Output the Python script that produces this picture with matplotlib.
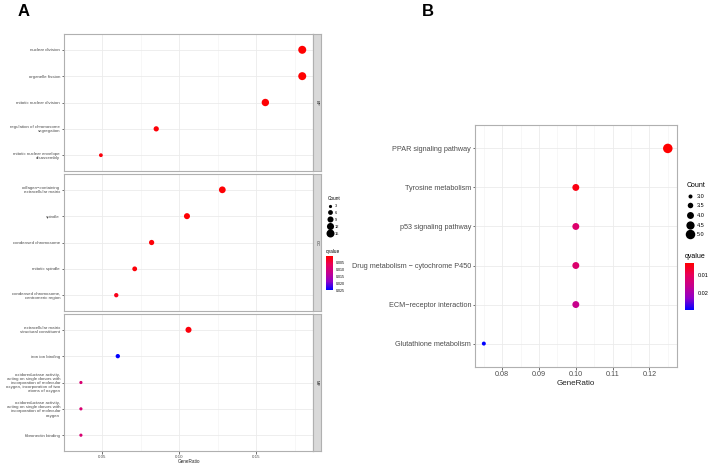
import numpy as np
import matplotlib
matplotlib.use("Agg")
import matplotlib.pyplot as plt
from matplotlib.colors import LinearSegmentedColormap, Normalize
from matplotlib.lines import Line2D

plt.rcParams['font.family'] = ['Liberation Sans', 'DejaVu Sans']

# ---- data: panel A (GO enrichment, three ontologies) ----
bp_terms = ["nuclear division", "organelle fission", "mitotic nuclear division",
            "regulation of chromosome\nsegregation", "mitotic nuclear envelope\ndisassembly"]
bp_ratio = [0.180, 0.180, 0.156, 0.085, 0.049]
bp_count = [15, 15, 13, 7, 4]
bp_q = [0.0008, 0.0008, 0.0009, 0.0012, 0.0015]

cc_terms = ["collagen\u2212containing\nextracellular matrix", "spindle", "condensed chromosome",
            "mitotic spindle", "condensed chromosome,\ncentromeric region"]
cc_ratio = [0.128, 0.105, 0.082, 0.071, 0.059]
cc_count = [11, 9, 7, 6, 5]
cc_q = [0.0010, 0.0010, 0.0012, 0.0013, 0.0025]

mf_terms = ["extracellular matrix\nstructural constituent", "iron ion binding",
            "oxidoreductase activity,\nacting on single donors with\nincorporation of molecular\noxygen, incorporation of two\natoms of oxygen",
            "oxidoreductase activity,\nacting on single donors with\nincorporation of molecular\noxygen",
            "fibronectin binding"]
mf_ratio = [0.106, 0.060, 0.036, 0.036, 0.036]
mf_count = [9, 5, 3, 3, 3]
mf_q = [0.0015, 0.025, 0.0095, 0.0095, 0.0095]

facets = ["BP", "CC", "MF"]

# ---- data: panel B (KEGG) ----
kegg_terms = ["PPAR signaling pathway", "Tyrosine metabolism", "p53 signaling pathway",
              "Drug metabolism \u2212 cytochrome P450", "ECM\u2212receptor interaction",
              "Glutathione metabolism"]
kegg_ratio = [0.125, 0.100, 0.100, 0.100, 0.100, 0.075]
kegg_count = [5, 4, 4, 4, 4, 3]
kegg_q = [0.0032, 0.0045, 0.0120, 0.0122, 0.0160, 0.0298]

# red -> blue gradient roughly like ggplot's Lab interpolation
cmap = LinearSegmentedColormap.from_list(
    "rb", ["#FF0000", "#E8005A", "#C4008F", "#9000C8", "#0000FF"])

W, H = 708, 463
fig = plt.figure(figsize=(W / 100, H / 100), dpi=100)


def rect(x0, y0, x1, y1):
    return [x0 / W, 1 - y1 / H, (x1 - x0) / W, (y1 - y0) / H]


def size_map(c, cmin, cmax, dmin, dmax):
    c = np.asarray(c, float)
    d = dmin + (np.sqrt(c) - np.sqrt(cmin)) / (np.sqrt(cmax) - np.sqrt(cmin)) * (dmax - dmin)
    return (d * 0.72) ** 2


def style(ax, fs):
    for s in ax.spines.values():
        s.set_color("#B0B0B0")
        s.set_linewidth(0.8)
    ax.grid(True, which="major", color="#EBEBEB", linewidth=0.6)
    ax.grid(True, which="minor", axis="x", color="#F2F2F2", linewidth=0.4)
    ax.set_axisbelow(True)
    ax.tick_params(axis="both", which="major", length=1.8, width=0.5, color="#333333",
                   labelsize=fs, labelcolor="#4D4D4D", pad=1)
    ax.tick_params(axis="both", which="minor", length=0)


# ---- panel A ----
normA = Normalize(vmin=0.0007, vmax=0.025)
panel_y = [(34, 171), (174, 311), (314, 451)]
groups = [(bp_terms, bp_ratio, bp_count, bp_q),
          (cc_terms, cc_ratio, cc_count, cc_q),
          (mf_terms, mf_ratio, mf_count, mf_q)]
for i, ((terms, ratio, count, q), (y0, y1)) in enumerate(zip(groups, panel_y)):
    ax = fig.add_axes(rect(64, y0, 313, y1))
    ypos = np.arange(len(terms))[::-1] + 1
    ax.scatter(ratio, ypos, s=size_map(count, 3, 15, 3.2, 8.0), c=q, cmap=cmap,
               norm=normA, linewidths=0, zorder=3)
    ax.set_xlim(0.029, 0.187)
    ax.set_ylim(0.4, len(terms) + 0.6)
    ax.set_yticks(ypos)
    ax.set_yticklabels(terms, linespacing=1.05)
    ax.set_xticks([0.05, 0.10, 0.15])
    ax.set_xticks([0.025, 0.075, 0.125, 0.175], minor=True)
    style(ax, 3.15)
    if i < 2:
        ax.tick_params(axis="x", labelbottom=False, length=0)
    else:
        ax.set_xticklabels(["0.05", "0.10", "0.15"])
        ax.set_xlabel("GeneRatio", fontsize=3.3, labelpad=0.0, color="#222222")
    sx = fig.add_axes(rect(313, y0, 321, y1))
    sx.set_facecolor("#D9D9D9")
    sx.set_xticks([])
    sx.set_yticks([])
    for s in sx.spines.values():
        s.set_color("#B0B0B0")
        s.set_linewidth(0.8)
    sx.text(0.5, 0.5, facets[i], rotation=-90, ha="center", va="center",
            fontsize=3.0, color="#1A1A1A", transform=sx.transAxes)

# legend A
hA = [Line2D([], [], linestyle="none", marker="o", color="black",
             markersize=np.sqrt(size_map([c], 3, 15, 3.2, 8.0)[0]), markeredgewidth=0)
      for c in [3, 6, 9, 12, 15]]
legA = fig.legend(hA, ["3", "6", "9", "12", "15"], title="Count", loc="upper left",
                  bbox_to_anchor=(326 / W, 1 - 194 / H), frameon=False,
                  fontsize=2.8, title_fontsize=3.4, labelspacing=0.75,
                  handletextpad=0.6, borderpad=0, handlelength=1.2)
legA._legend_box.align = "left"
caxA = fig.add_axes(rect(326, 256, 333, 290))
cbA = fig.colorbar(plt.cm.ScalarMappable(norm=normA, cmap=cmap), cax=caxA,
                   ticks=[0.005, 0.010, 0.015, 0.020, 0.025])
cbA.ax.invert_yaxis()
cbA.ax.set_yticklabels(["0.005", "0.010", "0.015", "0.020", "0.025"])
cbA.ax.tick_params(labelsize=2.6, length=1.2, width=0.3, color="white", pad=1)
cbA.outline.set_visible(False)
fig.text(326 / W, 1 - 251 / H, "qvalue", fontsize=3.4, va="center", ha="left")

# ---- panel B ----
normB = Normalize(vmin=min(kegg_q), vmax=max(kegg_q))
axB = fig.add_axes(rect(475, 125, 677, 367))
ypB = np.arange(len(kegg_terms))[::-1] + 1
axB.scatter(kegg_ratio, ypB, s=size_map(kegg_count, 3, 5, 4.0, 9.5), c=kegg_q,
            cmap=cmap, norm=normB, linewidths=0, zorder=3)
axB.set_xlim(0.0726, 0.1275)
axB.set_ylim(0.4, len(kegg_terms) + 0.6)
axB.set_yticks(ypB)
axB.set_yticklabels(kegg_terms)
axB.set_xticks([0.08, 0.09, 0.10, 0.11, 0.12])
axB.set_xticklabels(["0.08", "0.09", "0.10", "0.11", "0.12"])
axB.set_xticks([0.075, 0.085, 0.095, 0.105, 0.115, 0.125], minor=True)
style(axB, 5.2)
axB.set_xlabel("GeneRatio", fontsize=5.8, labelpad=1.5, color="#222222")

hB = [Line2D([], [], linestyle="none", marker="o", color="black",
             markersize=np.sqrt(size_map([c], 3, 5, 4.0, 9.5)[0]), markeredgewidth=0)
      for c in [3.0, 3.5, 4.0, 4.5, 5.0]]
legB = fig.legend(hB, ["3.0", "3.5", "4.0", "4.5", "5.0"], title="Count", loc="upper left",
                  bbox_to_anchor=(684 / W, 1 - 179 / H), frameon=False,
                  fontsize=4.0, title_fontsize=5.0, labelspacing=0.85,
                  handletextpad=0.5, borderpad=0, handlelength=1.3)
legB._legend_box.align = "left"
caxB = fig.add_axes(rect(685, 263, 694, 310))
cbB = fig.colorbar(plt.cm.ScalarMappable(norm=normB, cmap=cmap), cax=caxB,
                   ticks=[0.01, 0.02])
cbB.ax.invert_yaxis()
cbB.ax.set_yticklabels(["0.01", "0.02"])
cbB.ax.tick_params(labelsize=4.0, length=1.5, width=0.4, color="white", pad=1.2)
cbB.outline.set_visible(False)
fig.text(685 / W, 1 - 257 / H, "qvalue", fontsize=5.0, va="center", ha="left")

# panel letters
fig.text(18 / W, 1 - 12 / H, "A", fontsize=12, fontweight="bold", va="center")
fig.text(422 / W, 1 - 12 / H, "B", fontsize=12, fontweight="bold", va="center")

fig.savefig("out.png", dpi=100)
